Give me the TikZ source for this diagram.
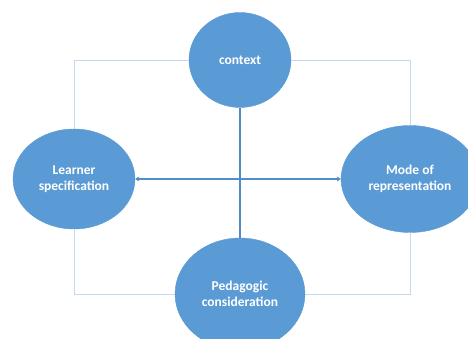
\documentclass[tikz,border=0pt]{standalone}
\usepackage{fontspec}
\setmainfont{Carlito}
\usetikzlibrary{arrows.meta}
\definecolor{officeblue}{HTML}{5B9BD5}
\definecolor{linkblue}{HTML}{4F8CC9}
\definecolor{frameblue}{HTML}{C5DAEE}
\tikzset{
    every node/.style={ellipse, fill=officeblue, draw=officeblue, text=white,
    	font=\bfseries\fontsize{13.5}{15.5}\selectfont, align=center, inner sep=0pt}
}
\tikzset{
    every edge/.append style={line width=2pt, draw=linkblue}
}
\pgfdeclarelayer{background}
\pgfsetlayers{background,main}
\usetikzlibrary{shapes.geometric}

\begin{document}
\begin{tikzpicture}[x=1pt, y=1pt]
	\useasboundingbox (0,0) rectangle (468,339);
	\node (ctx) [minimum width=102pt, minimum height=95pt] at (240, 279) {context};
	\node (lrn) [minimum width=122pt, minimum height=100pt] at (74, 160) {Learner\\specification};
	\node (mode) [minimum width=138pt, minimum height=107pt] at (410, 160) {Mode of\\representation};
	\node (ped) [minimum width=130pt, minimum height=112pt] at (240, 45) {Pedagogic\\consideration};
	
	\begin{pgfonlayer}{background}
	\draw [frameblue, line width=0.8pt] (lrn.center |- ctx.center) rectangle (mode.center |- ped.center);
	\end{pgfonlayer}
	
	\draw (ctx) edge (ped);
	\draw (lrn) edge [line width=2.6pt, {Stealth[length=4pt,width=5pt]}-{Stealth[length=4pt,width=5pt]}] (mode);
\end{tikzpicture}
\end{document}
